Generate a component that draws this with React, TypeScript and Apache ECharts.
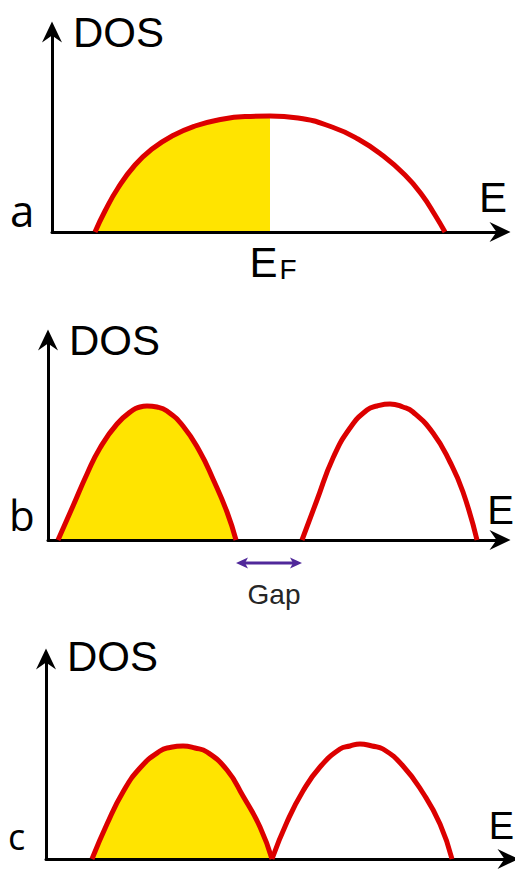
import React, { useEffect, useRef } from "react";
import * as echarts from "echarts";

// Panel a: single partially filled band (metal)
const ENERGY_A = [43, 53, 66, 83, 100, 120, 143, 166, 193, 218, 246, 280, 306, 330, 353, 370, 383, 393];
const DOS_A = [0, 21, 44, 67, 83, 96, 106, 112, 115.5, 116, 114, 105, 93, 77, 57, 37, 17, 0];
const FERMI_A = 218;

// Panel b: filled valence band, gap, empty conduction band (insulator)
const ENERGY_B1 = [10, 25, 39, 52, 69, 85, 92, 99, 109, 119, 135, 152, 165, 179, 188];
const DOS_B1 = [0, 34, 66, 92, 116, 130, 133, 134, 133, 129, 114, 88, 61, 28, 0];
const ENERGY_B2 = [254, 269, 285, 302, 319, 329, 342, 355, 365, 385, 402, 415, 429];
const DOS_B2 = [0, 40, 82, 112, 130, 134, 136, 133, 128, 107, 78, 48, 0];

// Panel c: filled band touching the empty band (semimetal)
const ENERGY_C1 = [46, 61, 77, 94, 114, 124, 137, 149, 161, 181, 197, 214, 226];
const DOS_C1 = [0, 35, 67, 91, 108, 111.5, 113, 111, 107, 89, 63, 32, 0];
const ENERGY_C2 = [226, 241, 257, 274, 294, 304, 314, 326, 337, 357, 377, 394, 406];
const DOS_C2 = [0, 37, 68, 92, 110, 113, 115, 113, 110, 93, 66, 35, 0];

const PANEL_LABELS = ["a", "b", "c"];
const Y_NAME = "DOS";
const X_NAME = "E";
const GAP_LABEL = "Gap";

const RED = "#DC0000";
const YELLOW = "#FFE400";
const PURPLE = "#50289A";
const SANS = '"Liberation Sans", Arial, sans-serif';
const LABEL_FONT = '"Open Sans", "Noto Sans", sans-serif';
const ARROW = "path://M10,0 L20,21 L10,14 L0,21 Z";

const zip = (xs: number[], ys: number[]) => xs.map((x, i) => [x, ys[i]]);

function axisLine() {
  return {
    show: true,
    onZero: true,
    symbol: ["none", ARROW],
    symbolSize: [20, 21],
    lineStyle: { color: "#000", width: 3 },
  };
}

function xAxisFor(gridIndex: number, max: number, extra: any = {}) {
  return {
    type: "value",
    gridIndex,
    min: 0,
    max,
    z: 2,
    axisLine: axisLine(),
    axisTick: { show: false },
    splitLine: { show: false },
    axisLabel: { show: false },
    ...extra,
  };
}

function yAxisFor(gridIndex: number, nameGap: number) {
  return {
    type: "value",
    gridIndex,
    min: 0,
    max: 200,
    z: 2,
    name: Y_NAME,
    nameLocation: "end",
    nameGap,
    nameTextStyle: {
      fontFamily: SANS,
      fontSize: 42,
      color: "#000",
      align: "left",
      verticalAlign: "middle",
      padding: [0, 0, 0, 21],
    },
    axisLine: axisLine(),
    axisTick: { show: false },
    splitLine: { show: false },
    axisLabel: { show: false },
  };
}

function fillSeries(axis: number, data: number[][]) {
  return {
    type: "line",
    xAxisIndex: axis,
    yAxisIndex: axis,
    data,
    smooth: 0.5,
    symbol: "none",
    z: 1,
    lineStyle: { width: 0, color: YELLOW },
    areaStyle: { color: YELLOW, opacity: 1 },
    silent: true,
  };
}

function curveSeries(axis: number, data: number[][]) {
  return {
    type: "line",
    xAxisIndex: axis,
    yAxisIndex: axis,
    data,
    smooth: 0.5,
    symbol: "none",
    clip: false,
    z: 3,
    lineStyle: { width: 5, color: RED },
    silent: true,
  };
}

function textItem(text: string, x: number, y: number, font: string, align: string) {
  return {
    type: "text",
    x,
    y,
    style: { text, font, fill: "#000", align, verticalAlign: "middle" },
  };
}

export default function App() {
  const ref = useRef<HTMLDivElement>(null);

  useEffect(() => {
    if (!ref.current) return;
    const chart = echarts.init(ref.current, null, { renderer: "svg" });

    const bandA = zip(ENERGY_A, DOS_A);
    const filledA = bandA.filter((p) => p[0] <= FERMI_A);

    const gapStart = ENERGY_B1[ENERGY_B1.length - 1];
    const gapEnd = ENERGY_B2[0];

    chart.setOption({
      animation: false,
      backgroundColor: "#fff",
      grid: [
        { left: 52, top: 32, width: 448, height: 200, outerBoundsMode: "none" },
        { left: 48, top: 340, width: 452, height: 200, outerBoundsMode: "none" },
        { left: 46, top: 659, width: 462, height: 200, outerBoundsMode: "none" },
      ],
      xAxis: [
        xAxisFor(0, 448, {
          axisLabel: {
            show: true,
            customValues: [FERMI_A],
            margin: 9,
            formatter: () => "{e|E}{f|F}",
            rich: {
              e: { fontFamily: SANS, fontSize: 42, lineHeight: 42, color: "#000", padding: [0, 0, 0, 6] },
              f: { fontFamily: SANS, fontSize: 28, lineHeight: 6, color: "#000", verticalAlign: "bottom", padding: [0, 0, 0, 2] },
            },
          },
        }),
        xAxisFor(1, 452),
        xAxisFor(2, 462),
      ],
      yAxis: [yAxisFor(0, 0), yAxisFor(1, 0), yAxisFor(2, 3)],
      series: [
        fillSeries(0, filledA),
        curveSeries(0, bandA),

        fillSeries(1, zip(ENERGY_B1, DOS_B1)),
        curveSeries(1, zip(ENERGY_B1, DOS_B1)),
        curveSeries(1, zip(ENERGY_B2, DOS_B2)),
        {
          // double-headed arrow spanning the band gap, with its caption
          type: "custom",
          xAxisIndex: 1,
          yAxisIndex: 1,
          data: [[gapStart, gapEnd]],
          z: 4,
          silent: true,
          renderItem: (_params: any, api: any) => {
            const a = api.coord([api.value(0), 0]);
            const b = api.coord([api.value(1), 0]);
            const y = a[1] + 23;
            const head = 12;
            const half = 5.5;
            return {
              type: "group",
              children: [
                {
                  type: "line",
                  shape: { x1: a[0] + 6, y1: y, x2: b[0] - 6, y2: y },
                  style: { stroke: PURPLE, lineWidth: 3 },
                },
                {
                  type: "polygon",
                  shape: { points: [[a[0], y], [a[0] + head, y - half], [a[0] + head * 0.75, y], [a[0] + head, y + half]] },
                  style: { fill: PURPLE },
                },
                {
                  type: "polygon",
                  shape: { points: [[b[0], y], [b[0] - head, y - half], [b[0] - head * 0.75, y], [b[0] - head, y + half]] },
                  style: { fill: PURPLE },
                },
                {
                  type: "text",
                  x: (a[0] + b[0]) / 2 + 5,
                  y: y + 31,
                  style: {
                    text: GAP_LABEL,
                    fill: "#262626",
                    font: `28px ${SANS}`,
                    align: "center",
                    verticalAlign: "middle",
                  },
                },
              ],
            };
          },
        },

        fillSeries(2, zip(ENERGY_C1, DOS_C1)),
        curveSeries(2, zip(ENERGY_C1, DOS_C1)),
        curveSeries(2, zip(ENERGY_C2, DOS_C2)),
      ],
      graphic: [
        textItem(X_NAME, 507, 197, `42px ${SANS}`, "right"),
        textItem(X_NAME, 514, 510, `40px ${SANS}`, "right"),
        textItem(X_NAME, 514, 826, `38px ${SANS}`, "right"),
        textItem(PANEL_LABELS[0], 10, 210, `44px ${LABEL_FONT}`, "left"),
        textItem(PANEL_LABELS[1], 9, 514, `42px ${LABEL_FONT}`, "left"),
        textItem(PANEL_LABELS[2], 8, 836, `36px ${LABEL_FONT}`, "left"),
      ],
    });

    return () => chart.dispose();
  }, []);

  return (
    <div
      ref={ref}
      style={{ position: "absolute", left: 0, top: 0, width: 515, height: 869 }}
    />
  );
}
